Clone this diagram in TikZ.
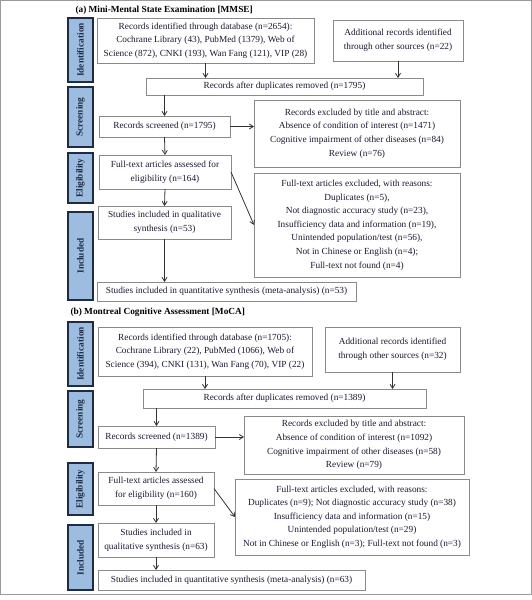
\documentclass[tikz,border=0pt]{standalone}
\usepackage{fontspec}
\setmainfont{Liberation Serif}
\usepackage{xcolor}
\usetikzlibrary{arrows.meta, positioning, calc}
\definecolor{pnavy}{HTML}{1F2A44}
\definecolor{plabel}{HTML}{9DBDE0}
\definecolor{pgray}{HTML}{8A8A8A}
\definecolor{ptext}{HTML}{1A1A33}
\definecolor{pframe}{HTML}{9A9A9A}
\definecolor{parrow}{HTML}{333333}
\tikzset{
  fbox/.style={draw=pgray, line width=0.9pt, fill=white, align=center, text=ptext,
               font=\fontsize{9.3}{13.6}\selectfont, inner sep=1pt, outer sep=0pt},
  phase/.style={draw=pnavy, line width=1.8pt, fill=plabel, text=pnavy, rotate=90,
                font=\fontsize{9.3}{11}\selectfont\bfseries, inner sep=0pt, outer sep=0pt},
  ptitle/.style={font=\fontsize{9.3}{11}\selectfont\bfseries, anchor=west, text=black},
  arr/.style={-{Straight Barb[length=4pt,width=5pt]}, line width=0.8pt, parrow},
}

\begin{document}
\begin{tikzpicture}[x=1pt, y=-1pt]

  \useasboundingbox (0,0) rectangle (532,600);
  \draw[pframe, line width=1pt] (0.5,0.5) rectangle (531.5,594.5);

  %% ═══════════ (a) MMSE ═══════════
  \node[ptitle] (titleA) at (72,10) {(a) Mini-Mental State Examination [MMSE]};

  %% Phase labels
  \node[phase, minimum width=64pt, minimum height=25pt] (idA)  at (80.5,50)  {Identification};
  \node[phase, minimum width=60pt, minimum height=25pt] (scA)  at (80.5,117) {Screening};
  \node[phase, minimum width=50pt, minimum height=25pt] (elA)  at (80.5,178) {Eligibility};
  \node[phase, minimum width=88pt, minimum height=25pt] (inA)  at (80.5,256) {Included};

  %% Boxes
  \node[fbox, minimum width=217pt, minimum height=45pt] (dbA) at (205.5,40.5)
    {Records identified through database (n=2654):\\
     Cochrane Library (43), PubMed (1379), Web of\\
     Science (872), CNKI (193), Wan Fang (121), VIP (28)};
  \node[fbox, minimum width=130pt, minimum height=41pt] (addA) at (398,40.5)
    {Additional records identified\\ through other sources (n=22)};
  \node[fbox, minimum width=277pt, minimum height=17pt] (dupA) at (284.5,86.5)
    {Records after duplicates removed (n=1795)};
  \node[fbox, minimum width=131pt, minimum height=21pt] (scrA) at (164.5,126.5)
    {Records screened (n=1795)};
  \node[fbox, minimum width=206pt, minimum height=67pt] (excA) at (357,133.5)
    {Records excluded by title and abstract:\\
     Absence of condition of interest (n=1471)\\
     Cognitive impairment of other diseases (n=84)\\
     Review (n=76)};
  \node[fbox, minimum width=132pt, minimum height=34pt] (ftA) at (165,172)
    {Full-text articles assessed for\\ eligibility (n=164)};
  \node[fbox, minimum width=206pt, minimum height=104pt] (rsnA) at (357,225)
    {Full-text articles excluded, with reasons:\\
     Duplicates (n=5),\\
     Not diagnostic accuracy study (n=23),\\
     Insufficiency data and information (n=19),\\
     Unintended population/test (n=56),\\
     Not in Chinese or English (n=4);\\
     Full-text not found (n=4)};
  \node[fbox, minimum width=133pt, minimum height=33pt] (qlA) at (164.5,222.5)
    {Studies included in qualitative\\ synthesis (n=53)};
  \node[fbox, minimum width=259pt, minimum height=19pt] (qnA) at (226.5,291.5)
    {Studies included in quantitative synthesis (meta-analysis) (n=53)};

  %% Connectors
  \draw[arr] (dbA.south) -- (dbA.south |- dupA.north);
  \draw[arr] (addA.south) -- (addA.south |- dupA.north);
  \draw[arr] (scrA.north |- dupA.south) -- (scrA.north);
  \draw[arr] (scrA.east) -- (scrA.east -| excA.west);
  \draw[arr] (scrA.south) -- (ftA.north);
  \draw[arr] (ftA.east) -- (rsnA.west);
  \draw[arr] (ftA.south) -- (qlA.north);
  \draw[arr] (qlA.south) -- (qlA.south |- qnA.north);

  %% ═══════════ (b) MoCA ═══════════
  \node[ptitle] (titleB) at (67,312) {(b) Montreal Cognitive Assessment [MoCA]};

  %% Phase labels
  \node[phase, minimum width=64pt, minimum height=25pt] (idB)  at (80.5,354)   {Identification};
  \node[phase, minimum width=56pt, minimum height=25pt] (scB)  at (80.5,419)   {Screening};
  \node[phase, minimum width=52pt, minimum height=25pt] (elB)  at (80.5,489)   {Eligibility};
  \node[phase, minimum width=65pt, minimum height=25pt] (inB)  at (80.5,557.5) {Included};

  %% Boxes
  \node[fbox, minimum width=214pt, minimum height=49pt] (dbB) at (205,351.5)
    {Records identified through database (n=1705):\\
     Cochrane Library (22), PubMed (1066), Web of\\
     Science (394), CNKI (131), Wan Fang (70), VIP (22)};
  \node[fbox, minimum width=135pt, minimum height=45pt] (addB) at (392.5,349.5)
    {Additional records identified\\ through other sources (n=32)};
  \node[fbox, minimum width=283pt, minimum height=19pt] (dupB) at (284.5,398.5)
    {Records after duplicates removed (n=1389)};
  \node[fbox, minimum width=117pt, minimum height=22pt] (scrB) at (156.5,437)
    {Records screened (n=1389)};
  \node[fbox, minimum width=220pt, minimum height=58pt] (excB) at (354,445)
    {Records excluded by title and abstract:\\
     Absence of condition of interest (n=1092)\\
     Cognitive impairment of other diseases (n=58)\\
     Review (n=79)};
  \node[fbox, minimum width=116pt, minimum height=33pt] (ftB) at (156,488.5)
    {Full-text articles assessed\\ for eligibility (n=160)};
  \node[fbox, minimum width=234pt, minimum height=76pt] (rsnB) at (352,517)
    {Full-text articles excluded, with reasons:\\
     Duplicates (n=9); Not diagnostic accuracy study (n=38)\\
     Insufficiency data and information (n=15)\\
     Unintended population/test (n=29)\\
     Not in Chinese or English (n=3); Full-text not found (n=3)};
  \node[fbox, minimum width=116pt, minimum height=34pt] (qlB) at (156,540)
    {Studies included in\\ qualitative synthesis (n=63)};
  \node[fbox, minimum width=267pt, minimum height=20pt] (qnB) at (231.5,580)
    {Studies included in quantitative synthesis (meta-analysis) (n=63)};

  %% Connectors
  \draw[arr] (dbB.south) -- (dbB.south |- dupB.north);
  \draw[arr] (addB.south) -- (addB.south |- dupB.north);
  \draw[arr] (scrB.north |- dupB.south) -- (scrB.north);
  \draw[arr] (scrB.east) -- (scrB.east -| excB.west);
  \draw[arr] (scrB.south) -- (ftB.north);
  \draw[arr] (ftB.east) -- (rsnB.west);
  \draw[arr] (ftB.south) -- (qlB.north);
  \draw[arr] (qlB.south) -- (qlB.south |- qnB.north);

\end{tikzpicture}
\end{document}
